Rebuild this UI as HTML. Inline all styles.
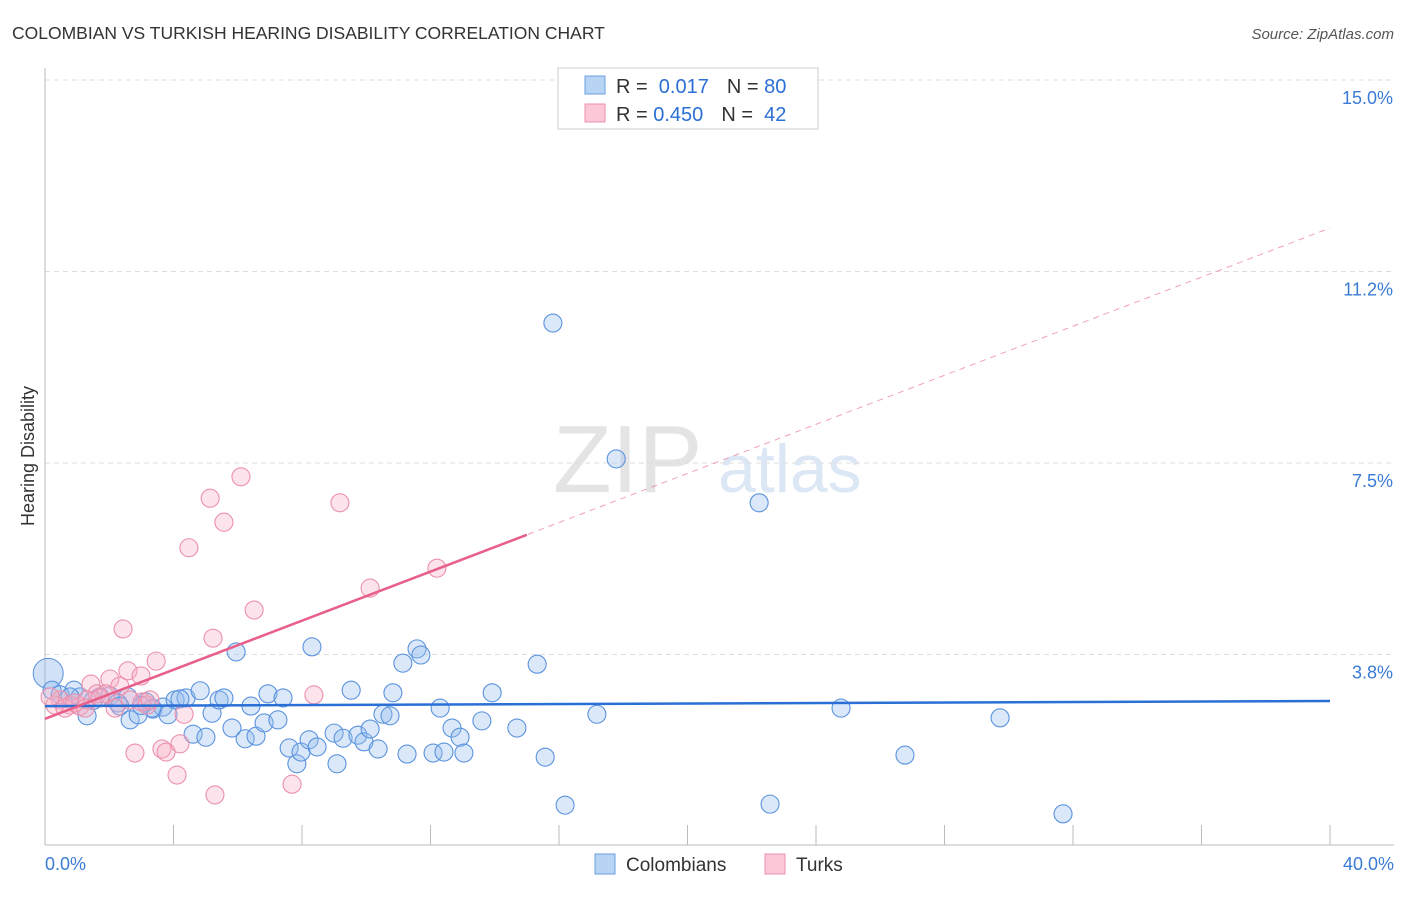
<!DOCTYPE html>
<html><head><meta charset="utf-8"><style>
body{margin:0;background:#fff;font-family:"Liberation Sans",sans-serif}
svg text{font-family:"Liberation Sans",sans-serif}
</style></head><body>
<svg id="c" width="1406" height="892">
<text x="12" y="39" font-size="17.5" fill="#333">COLOMBIAN VS TURKISH HEARING DISABILITY CORRELATION CHART</text>
<text x="1394" y="39" font-size="15" fill="#555" text-anchor="end" font-style="italic">Source: ZipAtlas.com</text>
<text x="34" y="456" font-size="18" fill="#333" text-anchor="middle" transform="rotate(-90 34 456)">Hearing Disability</text>
<text x="553" y="492" font-size="96" fill="#e4e4e4" font-family="Liberation Serif">ZIP</text>
<text x="718" y="492" font-size="68" fill="#dce7f6">atlas</text>
<g id="grid"></g><g id="axes"></g><g id="marks"></g>
<g>
<rect x="558" y="68" width="260" height="61" fill="#fff" stroke="#ccc"/>
<rect x="585" y="76" width="20" height="18" fill="#b8d4f5" stroke="#6a9fe0"/>
<rect x="585" y="104" width="20" height="18" fill="#fcc8d8" stroke="#ec90ad"/>
<text x="616" y="93" font-size="20" fill="#333">R = <tspan fill="#2a6fd6">&#160;0.017</tspan><tspan dx="18">N = </tspan><tspan fill="#2a6fd6">80</tspan></text>
<text x="616" y="121" font-size="20" fill="#333">R = <tspan fill="#2a6fd6">0.450</tspan><tspan dx="18">N = </tspan><tspan fill="#2a6fd6">&#160;42</tspan></text>
</g>
<g>
<rect x="595" y="854" width="20" height="20" fill="#b8d4f5" stroke="#6a9fe0"/>
<text x="626" y="871" font-size="19" fill="#333">Colombians</text>
<rect x="765" y="854" width="20" height="20" fill="#fcc8d8" stroke="#ec90ad"/>
<text x="796" y="871" font-size="19" fill="#333">Turks</text>
</g>
</svg>
<script>
const yTicks=[3.75,7.5,11.25,15];
const yTickLabels=["3.8%","7.5%","11.2%","15.0%"];
const xTickLabels=["0.0%","40.0%"];
const blueX=[15.81,17.78,22.23,5.95,8.31,11.58,11.70,11.14,15.32,0.22,0.90,0.47,1.09,1.71,2.02,2.58,2.27,3.14,3.36,3.67,4.05,4.39,4.83,5.20,5.42,5.57,4.20,6.94,7.41,9.53,10.83,13.92,1.31,2.65,2.90,3.83,4.61,5.01,5.82,6.23,6.57,6.82,7.25,6.41,7.60,7.84,7.97,8.22,8.47,9.09,9.00,9.28,9.74,9.93,10.12,10.37,10.52,10.74,11.27,12.08,12.42,12.67,12.92,13.04,12.30,13.60,14.69,15.57,17.18,24.78,29.73,26.77,16.19,22.57,31.69,3.33,2.33,0.78,1.5,3.0];
const blueY=[10.24,7.58,6.72,3.80,3.90,3.86,3.74,3.58,3.56,3.05,3.05,2.96,2.92,2.92,2.94,2.92,2.80,2.82,2.68,2.72,2.86,2.90,3.04,2.60,2.86,2.90,2.88,2.98,2.90,3.05,3.00,3.00,2.55,2.47,2.57,2.57,2.19,2.13,2.31,2.10,2.15,2.41,2.47,2.74,1.92,1.61,1.84,2.08,1.94,1.61,2.21,2.11,2.17,2.04,2.29,1.90,2.58,2.55,1.80,1.82,1.84,2.31,2.13,1.82,2.70,2.45,2.31,1.74,2.58,2.70,2.51,1.78,0.80,0.82,0.63,2.70,2.74,2.92,2.85,2.75];
const pinkX=[6.10,5.14,5.57,9.18,4.48,12.20,10.12,6.51,2.43,5.23,3.46,2.58,2.99,2.02,1.43,2.33,1.62,1.90,3.02,3.18,2.18,4.33,8.37,2.80,3.64,3.77,4.20,4.11,5.29,7.69,0.47,0.78,1.09,0.31,0.62,0.93,0.16,1.31,1.71,3.27,2.65,1.25];
const pinkY=[7.23,6.81,6.34,6.72,5.84,5.44,5.05,4.62,4.25,4.07,3.62,3.43,3.33,3.27,3.17,3.13,2.98,2.98,2.82,2.76,2.70,2.58,2.96,1.82,1.90,1.84,2.00,1.39,1.00,1.21,2.86,2.76,2.74,2.76,2.70,2.80,2.92,2.86,2.90,2.86,2.86,2.70];
const blueTrend=[2.74,2.84];
const pinkTrend=[2.49,12.1];
const NS="http://www.w3.org/2000/svg";
const X=v=>45+v/40*1285, Y=v=>846-v*51.07;
function mk(t,a,p){const e=document.createElementNS(NS,t);for(const k in a)e.setAttribute(k,a[k]);document.getElementById(p).appendChild(e);return e;}
yTicks.forEach((t,i)=>{
 const g=mk('line',{x1:45,x2:1394,y1:Y(t),y2:Y(t),stroke:'#ddd','stroke-dasharray':'5,4'},'grid');
 
 
 const l=mk('text',{x:1393,y:Y(t)+24,'font-size':18,fill:'#3a7bd5','text-anchor':'end'},'grid');l.textContent=yTickLabels[i];
 
 
});
const ax=mk('line',{x1:45,x2:45,y1:68,y2:845,stroke:'#bbb'},'axes');


const bx=mk('line',{x1:45,x2:1394,y1:845,y2:845,stroke:'#bbb'},'axes');


for(let i=0;i<=10;i++){const t=mk('line',{x1:X(i*4),x2:X(i*4),y1:825,y2:845,stroke:'#bbb'},'axes');
 
 }
[[0,'start',45],[1,'end',1394]].forEach(([i,a,x])=>{const t=mk('text',{x:x,y:870,'font-size':18,fill:'#3a7bd5','text-anchor':a},'axes');t.textContent=xTickLabels[i];
 
 });
const pd=mk('line',{x1:X(0),y1:Y(pinkTrend[0]),x2:X(40),y2:Y(pinkTrend[1]),stroke:'#e8608a','stroke-width':1,'stroke-dasharray':'6,5',opacity:0.6},'marks');


const big=mk('circle',{cx:X(0.1),cy:Y(3.38),r:15,fill:'rgba(140,180,235,0.4)',stroke:'#5b93de'},'marks');


blueX.forEach((x,i)=>{const c=mk('circle',{cx:X(x),cy:Y(blueY[i]),r:9,fill:'rgba(150,188,238,0.35)',stroke:'#5b93de','stroke-width':1.1},'marks');
 
 });
pinkX.forEach((x,i)=>{const c=mk('circle',{cx:X(x),cy:Y(pinkY[i]),r:9,fill:'rgba(248,175,198,0.35)',stroke:'#ec90ad','stroke-width':1.1},'marks');
 
 });
const bt=mk('line',{x1:X(0),y1:Y(blueTrend[0]),x2:X(40),y2:Y(blueTrend[1]),stroke:'#2a6fd6','stroke-width':2.5},'marks');


const px2=15;const pt=mk('line',{x1:X(0),y1:Y(pinkTrend[0]),x2:X(px2),y2:Y(pinkTrend[0]+(pinkTrend[1]-pinkTrend[0])*px2/40),stroke:'#e8608a','stroke-width':2.5},'marks');


</script>
</body></html>
